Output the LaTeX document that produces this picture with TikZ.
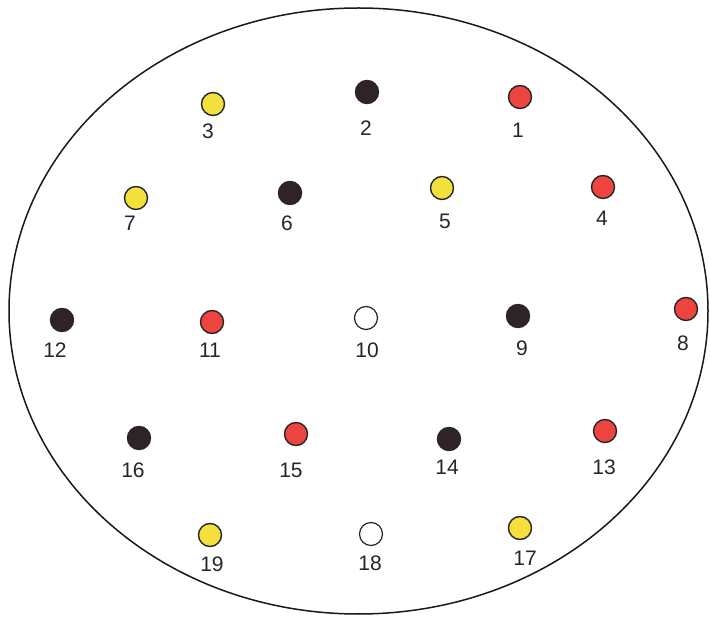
\documentclass[tikz,border=0pt]{standalone}
\usepackage{fontspec}
\setmainfont{Liberation Sans}
\definecolor{pinred}{HTML}{EE4440}
\definecolor{pinyel}{HTML}{F4E03C}
\definecolor{pinblk}{HTML}{2E2428}
\begin{document}
\begin{tikzpicture}[x=1pt,y=-1pt,
  pin/.style={circle,draw=black!85,line width=1.4pt,minimum size=23pt,inner sep=0pt},
  redpin/.style={pin,fill=pinred},
  yelpin/.style={pin,fill=pinyel},
  blkpin/.style={pin,fill=pinblk,draw=pinblk},
  whtpin/.style={pin,fill=white,line width=1.2pt},
  lbl/.style={font=\fontsize{21}{21}\selectfont,text=black!85,inner sep=0pt}]
\useasboundingbox (0,0) rectangle (710,617);
\fill[white] (0,0) rectangle (710,617);
\draw[line width=1.5pt,black!90] (358.5,311) ellipse [x radius=349.5,y radius=303];
\node[redpin] (p1) at (520,97) {};
\node[blkpin] (p2) at (367,92) {};
\node[yelpin] (p3) at (213,104) {};
\node[redpin] (p4) at (603,187) {};
\node[yelpin] (p5) at (442,188) {};
\node[blkpin] (p6) at (290,193) {};
\node[yelpin] (p7) at (136,198) {};
\node[redpin] (p8) at (686,309) {};
\node[blkpin] (p9) at (518,316) {};
\node[whtpin] (p10) at (366,318) {};
\node[redpin] (p11) at (212,322) {};
\node[blkpin] (p12) at (62,320) {};
\node[redpin] (p13) at (605,431) {};
\node[blkpin] (p14) at (449,439) {};
\node[redpin] (p15) at (296,434) {};
\node[blkpin] (p16) at (139,438) {};
\node[yelpin] (p17) at (520,528) {};
\node[whtpin] (p18) at (371,534) {};
\node[yelpin] (p19) at (210,535) {};
\node[lbl] (l1) at (518,130) {1};
\node[lbl] (l2) at (366,128) {2};
\node[lbl] (l3) at (208,131) {3};
\node[lbl] (l4) at (602,218) {4};
\node[lbl] (l5) at (445,221) {5};
\node[lbl] (l6) at (287,223) {6};
\node[lbl] (l7) at (130,223) {7};
\node[lbl] (l8) at (683,343) {8};
\node[lbl] (l9) at (522,348) {9};
\node[lbl] (l10) at (367,350) {10};
\node[lbl] (l11) at (210,350) {11};
\node[lbl] (l12) at (55,350) {12};
\node[lbl] (l13) at (604,467) {13};
\node[lbl] (l14) at (447,467) {14};
\node[lbl] (l15) at (291,470) {15};
\node[lbl] (l16) at (133,470) {16};
\node[lbl] (l17) at (525,558) {17};
\node[lbl] (l18) at (370,563) {18};
\node[lbl] (l19) at (212,564) {19};
\end{tikzpicture}
\end{document}
